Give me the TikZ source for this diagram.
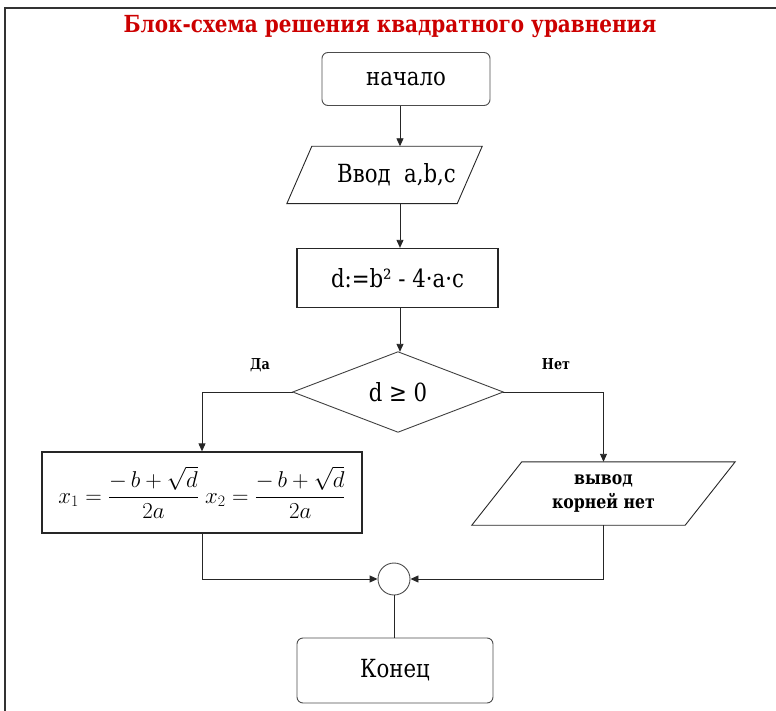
\documentclass[tikz,border=0pt]{standalone}
\usepackage{amsmath}
\usepackage{fontspec}
\setmainfont{DejaVu Serif}[FakeStretch=0.85]
\usetikzlibrary{arrows.meta,calc}
\definecolor{titlered}{RGB}{204,0,0}
\begin{document}
\begin{tikzpicture}[x=1pt,y=-1pt,
  line/.style={draw=black!85, line width=0.9pt},
  arr/.style={line, -{Triangle[length=8pt,width=7pt]}},
  term/.style={draw=black!70, line width=0.9pt, rounded corners=6pt, font=\fontsize{25}{29}\selectfont},
  procbox/.style={draw=black!85, line width=1.3pt, font=\fontsize{25}{29}\selectfont},
  hidden/.style={draw=none, inner sep=0pt},
  lbl/.style={font=\fontsize{15}{18}\selectfont\bfseries}
]
\useasboundingbox (0,0) rectangle (776,711);
\draw[line width=2pt, black!80] (5,711) -- (5,8) -- (776,8);

\node[font=\fontsize{23.5}{27}\selectfont\bfseries, text=titlered] (title) at (390,27) {Блок-схема решения квадратного уравнения};

\coordinate (ax) at (400,0);

\node[term, minimum width=168pt, minimum height=53pt] (start) at (406,79) {начало};

\node[hidden, minimum width=195pt, minimum height=57pt, font=\fontsize{25}{29}\selectfont] (inp) at (384.5,175) {\hspace*{24pt}Ввод\ \ a,b,c};
\draw[line] (inp.south west) -- ($(inp.north west)+(25,0)$) -- (inp.north east) -- ($(inp.south east)+(-25,0)$) -- cycle;

\node[procbox, minimum width=201pt, minimum height=59pt] (calc) at (397.5,278) {d:=b² - 4·a·c};

\node[hidden, minimum width=210pt, minimum height=80pt, font=\fontsize{25}{29}\selectfont] (dec) at (398,392) {d ≥ 0};
\draw[line, draw=black!75] (dec.north) -- (dec.east) -- (dec.south) -- (dec.west) -- cycle;

\node[procbox, minimum width=320pt, minimum height=81pt, font=\fontsize{24}{28}\selectfont] (roots) at (202,492.5)
  {\scalebox{0.92}{$x_1=\dfrac{-\,b+\sqrt{d}}{2a}\; x_2=\dfrac{-\,b+\sqrt{d}}{2a}$}};

\node[hidden, minimum width=263pt, minimum height=63pt, align=center, font=\fontsize{18.5}{24}\selectfont\bfseries] (none) at (603.5,493.5) {вывод\\корней нет};
\draw[line] (none.south west) -- ($(none.north west)+(50,0)$) -- (none.north east) -- ($(none.south east)+(-50,0)$) -- cycle;

\node[draw=black!70, line width=0.9pt, circle, minimum size=32pt, inner sep=0pt] (j) at (394,579) {};

\node[term, minimum width=196pt, minimum height=65pt] (end) at (395,670.5) {Конец};

\node[lbl] (yes) at (260,365) {Да};
\node[lbl] (no) at (556,364) {Нет};

\draw[arr] (start.south -| ax) -- (inp.north -| ax);
\draw[arr] (inp.south -| ax) -- (calc.north -| ax);
\draw[arr] (calc.south -| ax) -- (dec.north -| ax);
\draw[arr] (dec.west) -| (roots.north);
\draw[arr] (dec.east) -| (none.north);
\draw[arr] (roots.south) |- (j.west);
\draw[arr] (none.south) |- (j.east);
\draw[line] (j.south) -- (end.north -| j.south);
\end{tikzpicture}
\end{document}
